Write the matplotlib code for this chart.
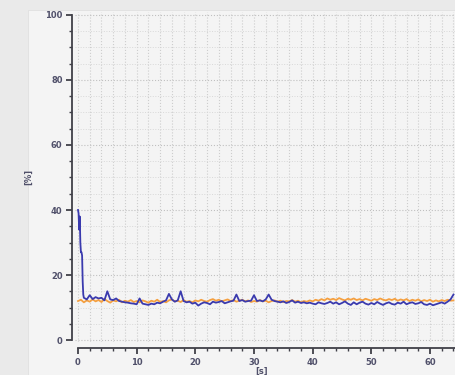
import numpy as np
import matplotlib
matplotlib.use('Agg')
import matplotlib.pyplot as plt
from matplotlib.ticker import MultipleLocator
from matplotlib.patches import Rectangle

# startup spike of the blue trace (s, %)
blue_start_t = [0.0, 0.1, 0.2, 0.3, 0.4, 0.5, 0.6, 0.7, 0.8, 0.9]
blue_start = [40.0, 39.0, 34.0, 38.0, 30.0, 27.0, 27.0, 26.0, 18.0, 14.0]

# blue trace, t = 1.0 .. 64.0 every 0.5 s
blue_vals = [
    13.0, 12.5, 13.8, 12.6, 13.2, 12.8, 13.0, 12.2, 15.0, 12.5,
    12.3, 12.8, 12.0, 11.8, 11.6, 11.5, 11.3, 11.2, 11.0, 12.8,
    11.2, 11.0, 10.8, 11.2, 11.0, 11.5, 11.3, 11.8, 12.2, 14.2,
    12.5, 11.8, 12.2, 15.0, 12.0, 11.6, 11.8, 11.2, 11.5, 10.6,
    11.2, 11.6, 11.4, 11.0, 11.8, 11.5, 11.7, 12.0, 11.3, 11.6,
    11.9, 12.1, 14.0, 12.0, 12.3, 11.8, 12.0, 12.1, 13.8, 12.0,
    12.2, 11.9, 12.5, 14.0, 12.4, 12.0, 11.8, 11.6, 11.9, 11.4,
    11.7, 12.2, 11.5, 11.8, 11.4, 11.6, 11.3, 11.5, 11.2, 11.0,
    11.6, 11.3, 11.1, 11.4, 11.8, 11.2, 11.6, 11.0, 11.4, 11.9,
    11.2, 10.8, 11.6, 11.0, 11.5, 11.8, 11.2, 10.9, 11.4, 11.0,
    11.7, 11.2, 10.8, 11.3, 11.6, 11.1, 10.9, 11.5, 11.2, 11.8,
    11.0, 11.4, 11.6, 11.1, 11.3, 11.7, 11.0, 10.8, 11.2, 10.7,
    11.0, 11.3, 11.6, 11.2, 11.8, 12.5, 14.0,
]

# orange trace, t = 0.0 .. 64.0 every 0.5 s
orange_vals = [
    12.0, 12.4, 11.6, 12.2, 11.8, 12.5, 11.9, 12.3, 11.7, 12.6,
    12.0, 11.5, 12.2, 11.9, 12.4, 11.6, 12.1, 11.8, 12.3, 11.7,
    12.0, 11.6, 12.2, 11.9, 11.5, 12.1, 11.8, 12.4, 11.7, 12.0,
    11.6, 12.2, 12.5, 11.9, 12.1, 11.7, 12.3, 11.8, 12.0, 11.6,
    12.2, 11.9, 12.4, 12.0, 11.8, 12.3, 12.6, 12.1, 12.4, 11.9,
    12.2, 12.5, 12.0, 12.3, 11.8, 12.1, 12.4, 11.9, 12.2, 11.7,
    12.0, 11.8, 12.3, 11.9, 12.1, 11.6, 12.0, 12.2, 11.8, 12.1,
    11.7, 12.0, 11.9, 12.3, 11.8, 12.1, 11.6, 12.0, 11.8, 12.2,
    11.9, 12.4, 12.1, 12.6, 12.2, 12.8, 12.4, 12.7, 12.3, 12.9,
    12.5, 12.2, 12.7, 12.4, 12.8, 12.3, 12.6, 12.2, 12.7, 12.4,
    12.1, 12.6, 12.3, 12.8, 12.4, 12.2, 12.6, 12.3, 12.7, 12.1,
    12.5, 12.2, 12.6, 12.0, 12.4, 12.1, 12.5, 11.9, 12.3, 12.0,
    12.4, 11.8, 12.2, 11.9, 12.3, 12.0, 12.4, 12.1, 12.2,
]

blue_t = np.concatenate([blue_start_t, np.arange(1.0, 64.01, 0.5)])
blue = np.concatenate([blue_start, blue_vals])
orange_t = np.arange(0.0, 64.01, 0.5)
orange = np.array(orange_vals)

fig = plt.figure(figsize=(4.55, 3.75), dpi=100, facecolor='#eaeaea')
# lighter panel behind the axes
fig.patches.append(Rectangle((28 / 455, 0), 1, 1 - 10 / 375, transform=fig.transFigure,
                             facecolor='#f4f4f4', edgecolor='#e0e0e0', lw=0.6, zorder=-10))

ax = fig.add_axes([75 / 455, 1 - 342 / 375, 380 / 455, 330 / 375])
ax.set_facecolor('#f4f4f4')
ax.set_xlim(-0.51, 64.26)
ax.set_ylim(-0.6, 100.9)

ax.plot(orange_t, orange, color='#f5a040', lw=1.3, zorder=3)
ax.plot(blue_t, blue, color='#3a3aae', lw=1.3, zorder=4)

for s in ['top', 'right']:
    ax.spines[s].set_visible(False)
ax.spines['left'].set_position(('outward', 2))
ax.spines['bottom'].set_position(('outward', 4.5))
ax.spines['left'].set_bounds(0, 100)
ax.spines['bottom'].set_bounds(0, 64.26)
for s in ['left', 'bottom']:
    ax.spines[s].set_color('#404048')
    ax.spines[s].set_linewidth(1.3)

ax.xaxis.set_major_locator(MultipleLocator(10))
ax.xaxis.set_minor_locator(MultipleLocator(2))
ax.yaxis.set_major_locator(MultipleLocator(20))
ax.yaxis.set_minor_locator(MultipleLocator(5))
ax.tick_params(which='major', length=4, width=1.3, color='#404048',
               labelsize=6, labelcolor='#50506a', pad=3)
ax.tick_params(which='minor', length=2, width=1.0, color='#404048')
for lab in ax.get_xticklabels() + ax.get_yticklabels():
    lab.set_fontweight('bold')

ax.grid(which='major', axis='y', color='#c0c0c0', ls=':', lw=0.8)
ax.grid(which='minor', axis='y', color='#d8d8d8', ls=':', lw=0.7)
ax.grid(which='both', axis='x', color='#cdcdcd', ls=':', lw=0.8)

ax.set_ylabel('[%]', fontsize=6, color='#50506a', fontweight='bold', labelpad=9)
ax.set_xlabel('[s]', fontsize=6, color='#50506a', fontweight='bold')
ax.xaxis.set_label_coords(0.49, -0.075)

fig.savefig('out.png', dpi=100, facecolor=fig.get_facecolor())
